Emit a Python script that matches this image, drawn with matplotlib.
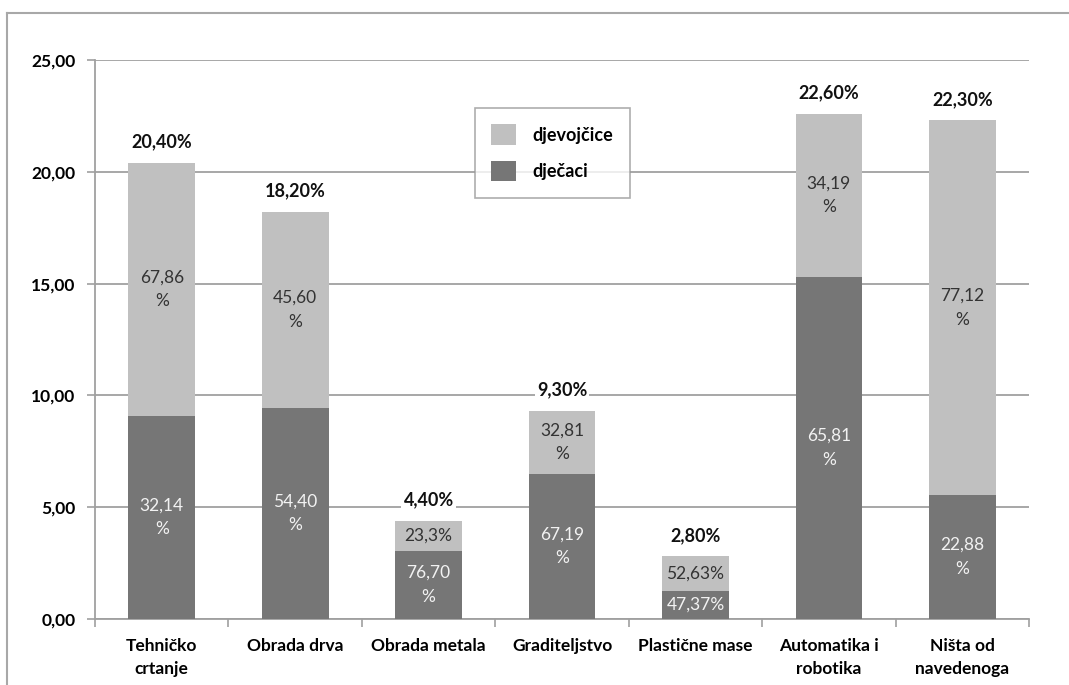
import numpy as np
import matplotlib.pyplot as plt
from matplotlib.lines import Line2D

plt.rcParams['font.family'] = ['Lato', 'DejaVu Sans']

# Data
categories = ["Tehničko\ncrtanje", "Obrada drva", "Obrada metala", "Graditeljstvo",
              "Plastične mase", "Automatika i\nrobotika", "Ništa od\nnavedenoga"]
totals = [20.40, 18.20, 4.40, 9.30, 2.80, 22.60, 22.30]
boys = [9.08, 9.44, 3.04, 6.48, 1.25, 15.30, 5.55]
girls = [t - b for t, b in zip(totals, boys)]

total_labels = ["20,40%", "18,20%", "4,40%", "9,30%", "2,80%", "22,60%", "22,30%"]
boys_labels = ["32,14\n%", "54,40\n%", "76,70\n%", "67,19\n%", "47,37%", "65,81\n%", "22,88\n%"]
girls_labels = ["67,86\n%", "45,60\n%", "23,3%", "32,81\n%", "52,63%", "34,19\n%", "77,12\n%"]

yticks = [0, 5, 10, 15, 20, 25]
ytick_labels = ["0,00", "5,00", "10,00", "15,00", "20,00", "25,00"]

dark = "#767676"
light = "#c0c0c0"
grid_col = "#a0a0a0"

fig = plt.figure(figsize=(10.69, 6.85), dpi=100)
ax = fig.add_axes([0.0889, 0.0964, 0.8737, 0.816])

x = np.arange(len(categories))
b1 = ax.bar(x, boys, width=0.5, color=dark, label="dječaci", zorder=3)
b2 = ax.bar(x, girls, width=0.5, bottom=boys, color=light, label="djevojčice", zorder=3)

# labels inside bars
for i in range(len(categories)):
    ax.text(x[i], boys[i] / 2, boys_labels[i], ha="center", va="center",
            color="#f2f2f2", fontsize=12.5, linespacing=1.6, zorder=4)
    ax.text(x[i], boys[i] + girls[i] / 2, girls_labels[i], ha="center", va="center",
            color="#333333", fontsize=12.5, linespacing=1.6, zorder=4)
    ax.annotate(total_labels[i], (x[i], totals[i]), xytext=(0, 9),
                textcoords="offset points", ha="center", va="bottom",
                fontsize=13, fontweight="bold", color="#111111", zorder=5,
                bbox=dict(facecolor="white", edgecolor="none", pad=1.5))

ax.set_xlim(-0.5, len(categories) - 0.5)
ax.set_ylim(0, 25)
ax.set_yticks(yticks)
ax.set_yticklabels(ytick_labels, fontsize=12.5, fontweight="bold")
ax.set_xticks(x)
ax.set_xticklabels(categories, fontsize=12.5, fontweight="bold", linespacing=1.5)
ax.set_xticks(np.arange(-0.5, len(categories)), minor=True)
ax.tick_params(axis="x", which="major", length=0, pad=14)
ax.tick_params(axis="x", which="minor", length=6, color=grid_col, width=1.2)
ax.tick_params(axis="y", length=6, color=grid_col, width=1.2, pad=8)

ax.grid(axis="y", color=grid_col, linewidth=1.3, zorder=0)
for s in ["top", "right"]:
    ax.spines[s].set_visible(False)
for s in ["left", "bottom"]:
    ax.spines[s].set_color(grid_col)
    ax.spines[s].set_linewidth(1.3)

leg = ax.legend(handles=[b2, b1], loc="upper left", bbox_to_anchor=(0.397, 0.93),
                fontsize=13, frameon=True, fancybox=False, handlelength=1.4,
                handleheight=1.4, labelspacing=0.85, borderpad=0.9, handletextpad=0.9)
for t in leg.get_texts():
    t.set_fontweight("bold")
leg.get_frame().set_edgecolor("#999999")
leg.get_frame().set_linewidth(1.2)

# outer frame of the chart area
fig.add_artist(Line2D([0.0065, 0.0065], [0, 0.981], color="#a8a8a8", lw=1.5))
fig.add_artist(Line2D([0.0065, 1.0], [0.981, 0.981], color="#a8a8a8", lw=1.5))

fig.savefig("out.png", dpi=100)
